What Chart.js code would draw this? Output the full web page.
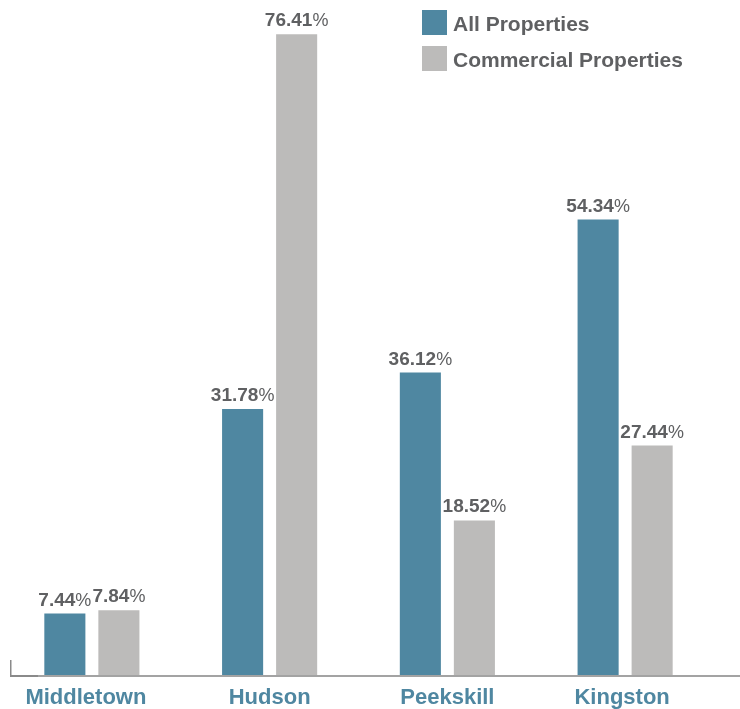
<!DOCTYPE html>
<html>
<head>
<meta charset="utf-8">
<script src="https://cdn.jsdelivr.net/npm/chart.js@4"></script>
<style>
    html, body { margin: 0; padding: 0; background: #fff; }
    #wrap { width: 740px; height: 709px; position: relative; }
</style>
</head>
<body>
<div id="wrap"><canvas id="propChart" width="740" height="709"></canvas></div>
<script>
// Data
const cities = ['Middletown', 'Hudson', 'Peekskill', 'Kingston'];
const allProperties = [7.44, 31.78, 36.12, 54.34];
const commercialProperties = [7.84, 76.41, 18.52, 27.44];
const seriesNames = ['All Properties', 'Commercial Properties'];

const BLUE = '#4f87a1';
const GREY = '#bcbbba';
const TEXT = '#5f6062';
const FONT = '"Liberation Sans", Arial, sans-serif';

/**
 * Value labels, category names, baseline and legend
 */
const decorPlugin = {
    id: 'decor',
    afterDatasetsDraw(chart) {
        const ctx = chart.ctx;
        const yScale = chart.scales.y;
        const xScale = chart.scales.x;
        const base = yScale.getPixelForValue(0);

        ctx.save();

        // baseline
        ctx.fillStyle = '#a3a3a3';
        ctx.fillRect(10, base - 1, 730, 2);
        ctx.fillStyle = '#8a8a8a';
        ctx.fillRect(10, base - 1, 28, 2);
        ctx.fillRect(10, base - 16, 1.5, 16);

        // value labels
        chart.data.datasets.forEach((ds, di) => {
            const meta = chart.getDatasetMeta(di);
            meta.data.forEach((bar, i) => {
                const num = ds.data[i].toFixed(2);
                ctx.font = 'bold 19px ' + FONT;
                const wNum = ctx.measureText(num).width;
                ctx.font = '18px ' + FONT;
                const wPct = ctx.measureText('%').width;
                const left = bar.x - (wNum + wPct) / 2;
                const y = bar.y - 8;
                ctx.textBaseline = 'alphabetic';
                ctx.textAlign = 'left';
                ctx.fillStyle = TEXT;
                ctx.font = 'bold 19px ' + FONT;
                ctx.fillText(num, left, y);
                ctx.font = '18px ' + FONT;
                ctx.fillText('%', left + wNum, y);
            });
        });

        // category labels (first one sits a little left of its group)
        ctx.font = 'bold 22px ' + FONT;
        ctx.fillStyle = BLUE;
        ctx.textAlign = 'center';
        ctx.textBaseline = 'middle';
        cities.forEach((c, i) => {
            const shift = i === 0 ? -6 : (i === 3 ? -3 : 0);
            ctx.fillText(c, xScale.getPixelForValue(i) + shift, 698);
        });

        // legend
        const colors = [BLUE, GREY];
        ctx.textAlign = 'left';
        ctx.font = 'bold 21px ' + FONT;
        seriesNames.forEach((name, i) => {
            const top = 10 + i * 36;
            ctx.fillStyle = colors[i];
            ctx.fillRect(422, top, 25, 25);
            ctx.fillStyle = TEXT;
            ctx.fillText(name, 453, top + 15);
        });

        ctx.restore();
    }
};

new Chart(document.getElementById('propChart'), {
    type: 'bar',
    data: {
        labels: cities,
        datasets: [
            {
                label: seriesNames[0],
                data: allProperties,
                backgroundColor: BLUE,
                categoryPercentage: 0.608,
                barPercentage: 0.76
            },
            {
                label: seriesNames[1],
                data: commercialProperties,
                backgroundColor: GREY,
                categoryPercentage: 0.608,
                barPercentage: 0.76
            }
        ]
    },
    options: {
        responsive: false,
        animation: false,
        layout: {
            padding: { left: 3, right: 26, top: 4, bottom: 33 }
        },
        plugins: {
            legend: { display: false },
            tooltip: { enabled: false }
        },
        scales: {
            x: { display: false },
            y: { display: false, min: 0, max: 80 }
        }
    },
    plugins: [decorPlugin]
});
</script>
</body>
</html>
